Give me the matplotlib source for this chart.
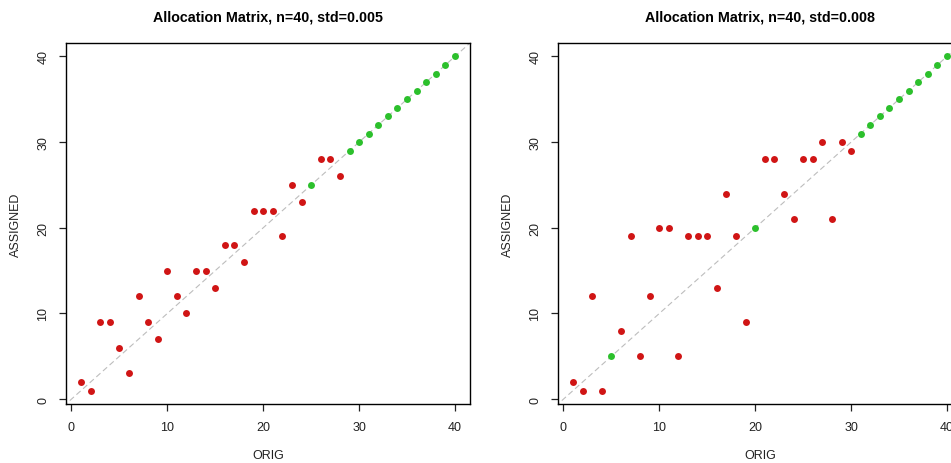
import numpy as np
import matplotlib.pyplot as plt

plt.rcParams['font.family'] = ['Liberation Sans', 'DejaVu Sans']

# original positions 1..40 and where each one ended up
orig = list(range(1, 41))
assigned_005 = [2, 1, 9, 9, 6, 3, 12, 9, 7, 15,
                12, 10, 15, 15, 13, 18, 18, 16, 22, 22,
                22, 19, 25, 23, 25, 28, 28, 26, 29, 30,
                31, 32, 33, 34, 35, 36, 37, 38, 39, 40]
assigned_008 = [2, 1, 12, 1, 5, 8, 19, 5, 12, 20,
                20, 5, 19, 19, 19, 13, 24, 19, 9, 20,
                28, 28, 24, 21, 28, 28, 30, 21, 30, 29,
                31, 32, 33, 34, 35, 36, 37, 38, 39, 40]
titles = ["Allocation Matrix, n=40, std=0.005",
          "Allocation Matrix, n=40, std=0.008"]

W, H = 951, 464
fig = plt.figure(figsize=(W / 100, H / 100), dpi=100)

panels = [(66, assigned_005), (558, assigned_008)]
for (left, assigned), title in zip(panels, titles):
    ax = fig.add_axes([left / W, (H - 405) / H, 404 / W, (405 - 44) / H])
    x = np.array(orig)
    y = np.array(assigned)
    same = x == y
    ax.plot([-5, 45], [-5, 45], ls=(0, (5, 3)), color='#bdbdbd', lw=0.8, zorder=1)
    ax.scatter(x[~same], y[~same], s=25, color='#d01515', zorder=3, linewidths=0)
    ax.scatter(x[same], y[same], s=25, color='#2cc02c', zorder=3, linewidths=0)
    ax.set_xlim(-0.56, 41.56)
    ax.set_ylim(-0.56, 41.56)
    ax.set_xticks([0, 10, 20, 30, 40])
    ax.set_yticks([0, 10, 20, 30, 40])
    ax.tick_params(direction='out', length=5, width=0.9, pad=7, labelsize=9, colors='#222222')
    for lab in ax.get_yticklabels():
        lab.set_rotation(90)
        lab.set_va('center')
    for sp in ax.spines.values():
        sp.set_linewidth(1.0)
    ax.set_xlabel("ORIG", fontsize=9, labelpad=12, color='#222222')
    ax.set_ylabel("ASSIGNED", fontsize=9, labelpad=11, color='#222222')
    ax.set_title(title, fontsize=10.3, fontweight='bold', pad=16)

fig.savefig("out.png", dpi=100)
